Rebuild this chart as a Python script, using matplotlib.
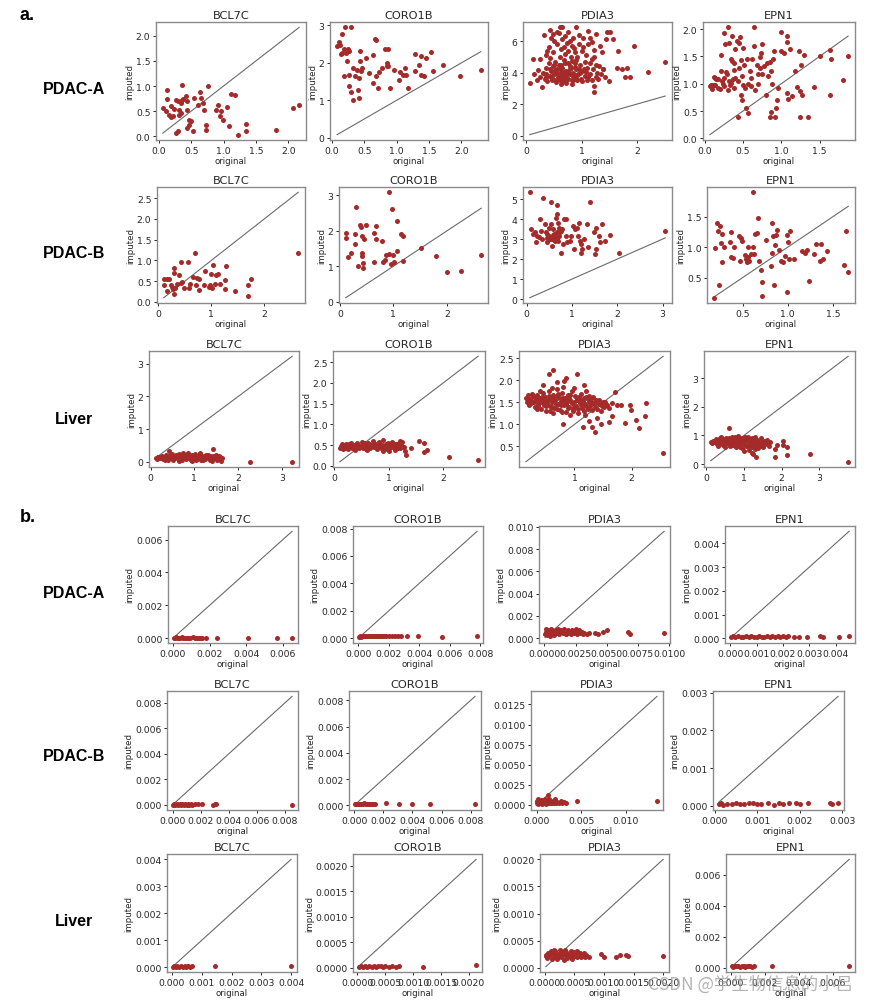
import numpy as np
import matplotlib
matplotlib.use('Agg')
import matplotlib.pyplot as plt
from matplotlib.ticker import MultipleLocator

# ---------- data: (original, imputed) per panel ----------
genes = ['BCL7C', 'CORO1B', 'PDIA3', 'EPN1']
row_names = ['PDAC-A', 'PDAC-B', 'Liver']

# a. PDAC-A
a_pdaca_bcl7c = [(.06,.57),(.13,.93),(.13,.75),(.11,.50),(.15,.43),(.18,.39),(.21,.40),(.18,.60),(.23,.55),(.26,.73),
    (.29,.70),(.31,.53),(.34,.47),(.34,.67),(.36,.73),(.38,.75),(.36,1.02),(.29,.10),(.27,.07),(.31,.43),
    (.42,.80),(.43,.53),(.44,.70),(.46,.33),(.47,.23),(.44,.17),(.49,.30),(.52,.11),(.54,.77),(.60,.63),
    (.64,.88),(.65,.77),(.68,.67),(.70,.53),(.73,.23),(.73,.12),(.76,1.00),(.89,.53),(.91,.63),(.94,.40),
    (.96,.50),(.99,.33),(1.06,.59),(1.09,.20),(1.12,.85),(1.17,.83),(1.23,.03),(1.35,.25),(1.35,.11),(1.81,.12),
    (2.07,.57),(2.17,.62)]
a_pdaca_coro1b = [(.08,2.44),(.11,2.55),(.13,2.47),(.15,2.77),(.19,2.36),(.16,2.27),(.22,2.27),(.20,2.95),(.30,2.95),(.14,2.23),
    (.25,2.38),(.27,2.32),(.23,2.06),(.19,1.65),(.27,1.38),(.30,1.23),(.33,1.00),(.27,1.68),(.33,1.86),(.36,1.64),
    (.38,1.82),(.41,1.59),(.40,1.27),(.41,1.05),(.44,2.32),(.44,2.05),(.46,1.86),(.45,1.77),(.52,2.14),(.57,1.73),
    (.63,2.20),(.66,2.65),(.68,2.62),(.63,1.47),(.68,1.65),(.73,1.75),(.71,1.32),(.77,1.86),(.82,2.36),(.85,2.00),
    (.85,1.91),(.87,2.38),(.87,1.91),(.90,1.32),(.96,1.80),(1.04,1.55),(1.05,1.75),(1.09,1.68),(1.13,1.86),(1.15,1.68),
    (1.17,1.32),(1.28,1.77),(1.29,2.25),(1.34,1.93),(1.37,2.18),(1.38,1.68),(1.42,1.64),(1.45,2.14),(1.53,2.29),(1.56,1.77),
    (1.72,1.95),(1.98,1.64),(2.30,1.80)]
a_pdaca_pdia3 = [(.06,3.36),(.12,4.85),(.13,3.90),(.19,3.51),(.21,4.15),(.25,4.85),(.25,3.74),(.28,3.10),(.31,6.40),(.43,6.72),
    (.48,6.45),(.60,6.87),(.64,6.87),(.90,6.87),(1.12,6.66),(1.26,6.45),(1.45,6.55),(1.51,6.55),(1.44,6.13),(1.57,6.13),
    (1.18,5.91),(1.66,5.38),(1.94,5.70),(1.63,4.32),(1.72,4.21),(1.81,4.32),(1.78,3.74),(1.88,3.74),(2.20,4.04),(2.51,4.68),
    (1.50,3.47),(1.22,2.77),(1.22,3.15),(1.39,4.21),(1.36,5.28),(1.33,5.70),
    (.30,4.0),(.33,3.6),(.35,4.3),(.36,5.1),(.38,3.45),(.40,4.6),(.40,5.6),(.42,3.8),(.44,4.1),(.45,6.2),
    (.46,3.5),(.48,4.4),(.48,5.3),(.50,3.9),(.50,6.0),(.52,4.7),(.53,3.4),(.55,4.2),(.55,5.8),(.57,3.7),
    (.58,4.5),(.58,6.5),(.60,3.5),(.60,5.0),(.62,4.0),(.62,5.5),(.64,3.4),(.65,4.3),(.65,6.1),(.67,3.8),
    (.68,4.8),(.70,3.5),(.70,5.2),(.70,6.3),(.72,4.1),(.73,5.9),(.75,3.6),(.75,4.6),(.76,5.4),(.78,3.9),
    (.78,6.0),(.80,4.3),(.80,5.0),(.82,3.5),(.83,5.7),(.85,4.0),(.85,6.2),(.87,4.6),(.88,3.7),(.88,5.3),
    (.90,4.2),(.92,3.5),(.92,5.0),(.94,3.9),(.95,5.8),(.96,4.5),(.98,3.6),(1.00,4.1),(1.00,5.4),(1.02,6.2),
    (1.05,3.8),(1.05,4.7),(1.08,5.1),(1.10,3.5),(1.10,4.3),(1.12,5.8),(1.15,3.9),(1.15,4.6),(1.18,3.5),(1.20,4.2),
    (1.22,5.0),(1.25,3.7),(1.25,4.5),(1.28,4.0),(1.30,3.6),(1.32,4.4),(1.35,3.9),(1.38,4.2),(1.42,3.7),(.35,3.9),
    (.45,3.75),(.55,3.55),(.65,3.65),(.75,3.95),(.85,3.55),(.95,4.25),(.68,4.05),(.78,4.2),(.58,3.85),(.88,4.35),
    (1.0,3.45),(.52,4.15),(.62,4.45),(.72,3.35),(.82,4.75),(.92,3.85),(1.08,4.05),(1.18,4.85),(.42,4.9),(.38,5.4),
    (.55,6.6),(.75,6.6),(.95,6.4),(1.15,6.2),(.68,5.65),(.86,5.55),(1.02,5.65),(1.22,5.45),
    (.35,3.7),(.42,4.2),(.48,3.6),(.55,4.0),(.60,4.2),(.66,3.5),(.72,3.8),(.78,4.4),(.84,3.8),(.90,3.6),
    (.96,4.0),(1.04,4.2),(1.12,3.7),(.50,4.5),(.70,4.6),(.90,4.8),(.62,3.3),(.82,3.3)]
a_pdaca_epn1 = [(.09,.98),(.10,.90),(.11,.97),(.13,1.11),(.15,1.09),(.18,1.08),(.20,.90),(.21,1.23),(.22,1.52),(.24,1.00),
    (.25,1.93),(.26,1.11),(.27,1.72),(.29,1.17),(.30,2.03),(.31,.88),(.32,1.75),(.33,.98),(.34,1.45),(.35,1.02),
    (.36,1.88),(.36,1.42),(.37,1.08),(.39,1.26),(.39,1.38),(.40,1.63),(.42,1.78),(.43,1.05),(.44,.40),(.45,1.29),
    (.45,1.75),(.46,1.85),(.47,1.43),(.48,.80),(.49,.71),(.49,1.14),(.50,1.66),(.52,1.35),(.53,.92),(.54,.55),
    (.55,1.45),(.56,.46),(.57,1.00),(.59,1.23),(.61,.95),(.62,1.46),(.64,2.03),(.65,1.69),(.66,.89),(.68,1.35),
    (.69,1.17),(.70,1.00),(.72,1.48),(.74,1.57),(.75,1.72),(.75,1.17),(.78,1.32),(.80,.80),(.81,1.38),(.83,1.14),
    (.85,.40),(.86,.49),(.87,1.23),(.88,1.00),(.89,1.45),(.91,1.60),(.92,.40),(.93,.55),(.94,.71),(.96,.92),
    (.99,1.60),(1.00,1.94),(1.03,1.57),(1.07,1.88),(1.08,1.77),(1.08,.83),(1.09,.72),(1.11,1.63),(1.14,.77),(1.18,1.23),
    (1.20,.94),(1.23,1.60),(1.24,.40),(1.25,.86),(1.26,1.35),(1.27,.80),(1.29,1.52),(1.35,.40),(1.43,.94),(1.51,1.50),
    (1.64,1.62),(1.64,.80),(1.65,1.46),(1.81,1.06),(1.87,1.50),(.07,.95),(.12,1.12),(.18,.92),(.23,1.05),(.28,1.22),
    (.32,1.05),(.40,1.10),(.50,.98),(.60,1.10),(.72,1.28),(.85,1.40),(.14,.98),(.26,.95),(.38,.92)]

# a. PDAC-B
a_pdacb_bcl7c = [(.10,.40),(.11,.56),(.16,.56),(.17,.26),(.20,.56),(.24,.40),(.25,.36),(.27,.32),(.29,.20),(.29,.82),
    (.30,.70),(.32,.34),(.36,.44),(.38,.64),(.42,.96),(.42,.46),(.45,.48),(.49,.34),(.56,.96),(.58,.34),
    (.60,.42),(.66,.60),(.69,1.18),(.70,.40),(.72,.58),(.77,.56),(.77,.28),(.86,.40),(.87,.74),(.95,.36),
    (.98,.40),(1.00,.66),(1.02,.34),(1.03,.89),(1.06,.42),(1.08,.64),(1.12,.68),(1.16,.44),(1.26,.52),(1.26,.32),
    (1.28,.86),(1.45,.26),(1.70,.40),(1.70,.14),(1.74,.56),(2.64,1.18)]
a_pdacb_coro1b = [(.11,1.94),(.11,1.80),(.16,1.26),(.20,1.38),(.28,1.64),(.29,1.90),(.31,2.66),(.34,1.00),(.37,2.16),(.39,2.10),
    (.41,1.28),(.42,1.38),(.42,1.85),(.43,1.10),(.44,.96),(.45,1.78),(.48,2.16),(.64,1.93),(.67,2.13),(.64,1.12),
    (.68,1.78),(.79,1.72),(.81,1.12),(.84,1.19),(.87,1.31),(.91,1.35),(.91,3.09),(.95,1.05),(.98,2.62),(.99,1.31),
    (1.01,1.12),(1.06,2.27),(1.07,1.44),(1.14,1.92),(1.18,1.85),(1.18,1.16),(1.51,1.52),(1.79,1.28),(2.01,.84),(2.26,.86),
    (2.64,1.31)]
a_pdacb_pdia3 = [(.07,5.34),(.10,3.49),(.15,3.25),(.18,3.33),(.20,2.84),(.24,3.16),(.27,3.08),(.29,3.98),(.31,3.41),(.33,3.00),
    (.37,5.05),(.40,3.74),(.42,3.33),(.44,3.25),(.45,2.84),(.49,3.57),(.51,3.00),(.53,4.85),(.54,3.77),(.56,2.67),
    (.59,3.49),(.60,3.25),(.62,2.92),(.64,4.03),(.66,4.72),(.67,4.26),(.67,3.00),(.69,3.82),(.71,3.57),(.71,3.16),
    (.73,3.33),(.75,2.30),(.78,3.49),(.81,2.75),(.82,3.98),(.86,3.16),(.88,3.98),(.90,2.84),(.95,2.92),(.97,3.16),
    (1.03,3.66),(1.04,2.51),(1.06,3.49),(1.12,3.57),(1.13,3.16),(1.15,3.82),(1.17,2.92),(1.19,2.30),(1.20,2.75),(1.23,2.51),
    (1.26,3.00),(1.34,3.77),(1.35,2.62),(1.39,4.85),(1.48,3.33),(1.52,2.26),(1.53,2.51),(1.54,3.54),(1.59,3.16),(1.63,2.84),
    (1.67,3.74),(1.72,2.92),(1.83,3.21),(2.04,2.30),(3.06,3.38),(.55,3.00),(.60,2.95),(.65,3.10),(.70,2.90),(.62,3.05),
    (.58,3.20),(.68,3.35),(.75,3.40),(.50,3.15),(.45,3.05)]
a_pdacb_epn1 = [(.18,.17),(.19,.99),(.22,1.39),(.23,1.26),(.24,.38),(.25,1.35),(.26,1.07),(.27,.76),(.27,1.21),(.29,1.01),
    (.36,1.08),(.37,1.25),(.37,.84),(.39,.82),(.41,1.00),(.46,1.19),(.47,.77),(.48,1.15),(.49,1.10),(.53,.87),
    (.54,.80),(.55,.76),(.56,.84),(.56,1.01),(.57,.77),(.59,.88),(.61,1.01),(.61,1.90),(.63,.89),(.64,1.21),
    (.66,1.23),(.67,1.47),(.68,.78),(.70,.62),(.71,.20),(.72,.43),(.76,1.12),(.81,.69),(.82,1.39),(.83,.91),
    (.84,1.18),(.85,.38),(.86,1.04),(.87,1.20),(.88,1.28),(.90,.96),(.92,.78),(.95,.76),(.97,.85),(.99,.26),
    (.99,1.20),(1.00,1.09),(1.01,.81),(1.02,1.26),(1.07,.81),(1.16,.93),(1.19,.91),(1.21,.96),(1.23,.45),(1.29,.89),
    (1.31,1.05),(1.36,.77),(1.39,.80),(1.37,1.05),(1.43,.94),(1.62,.70),(1.65,1.26),(1.67,.60)]

# a. Liver
a_liver_bcl7c = [(.12,.12),(.15,.08),(.18,.16),(.22,.10),(.25,.19),(.28,.07),(.32,.14),(.35,.21),(.38,.09),(.42,.17),
    (.45,.12),(.48,.24),(.52,.06),(.55,.15),(.58,.20),(.62,.10),(.65,.25),(.68,.13),(.72,.05),(.75,.18),
    (.78,.22),(.82,.11),(.85,.27),(.88,.15),(.92,.06),(.95,.20),(.98,.12),(1.02,.24),(1.05,.09),(1.08,.17),
    (1.12,.21),(1.15,.04),(1.18,.13),(1.22,.19),(1.25,.08),(1.28,.15),(1.32,.22),(1.35,.06),(1.38,.14),(1.42,.18),
    (1.45,.10),(1.48,.16),(1.52,.05),(1.55,.12),(1.58,.15),(1.62,.10),(1.60,.03),(1.42,.40),(.42,.32),(2.26,.00),
    (3.23,.00),(.30,.10),(.40,.06),(.50,.19),(.60,.14),(.70,.21),(.80,.07),(.90,.18),(1.00,.15),(1.10,.11),
    (1.20,.06),(1.30,.10),(1.40,.03),(.20,.13),(1.50,.21),(.65,.03),(.95,.02),(1.12,.28),
    (.16,.13),(.26,.14),(.36,.16),(.46,.15),(.56,.10),(.66,.17),(.76,.12),(.86,.19),(.96,.15),(1.06,.13),
    (1.16,.17),(1.26,.20),(1.36,.17),(1.46,.14),(1.56,.18),(.34,.04),(.74,.26),(1.04,.04)]
a_liver_coro1b = [(.10,.42),(.12,.47),(.15,.40),(.18,.50),(.20,.44),(.22,.53),(.25,.41),(.28,.48),(.30,.56),(.32,.43),
    (.35,.51),(.38,.39),(.40,.46),(.42,.55),(.45,.42),(.48,.49),(.50,.58),(.52,.44),(.55,.52),(.58,.40),
    (.60,.47),(.62,.56),(.65,.43),(.68,.50),(.70,.60),(.72,.45),(.75,.53),(.78,.41),(.80,.48),(.82,.57),
    (.85,.44),(.88,.51),(.90,.62),(.92,.40),(.95,.47),(.98,.55),(1.00,.43),(1.02,.50),(1.05,.58),(1.08,.45),
    (1.10,.52),(1.12,.39),(1.15,.48),(1.18,.55),(1.20,.44),(1.22,.50),(1.25,.58),(1.28,.46),(1.30,.37),(1.32,.26),
    (1.40,.44),(1.55,.60),(1.64,.56),(1.64,.33),(1.70,.38),(2.10,.21),(2.64,.14),(.90,.36),(.60,.38),(1.20,.60),
    (1.00,.36),(.14,.52),(.24,.46),(.34,.45),(.44,.50),(.54,.46),(.64,.52),(.74,.48),(.84,.52),(.94,.53),
    (1.04,.46),(1.14,.53),(1.24,.46),(.27,.52),(.57,.55),(.87,.47),(1.17,.42)]
a_liver_pdia3 = [(.15,1.60),(.17,1.52),(.19,1.66),(.21,1.45),(.23,1.58),(.25,1.70),(.27,1.50),(.29,1.62),(.31,1.40),(.33,1.55),
    (.35,1.68),(.37,1.47),(.39,1.60),(.41,1.35),(.43,1.52),(.45,1.72),(.47,1.44),(.49,1.63),(.51,1.30),(.53,1.55),
    (.55,1.75),(.57,1.42),(.59,1.60),(.61,1.50),(.63,1.68),(.65,1.38),(.67,1.57),(.69,1.80),(.71,1.46),(.73,1.62),
    (.75,1.32),(.77,1.54),(.79,1.72),(.81,1.43),(.83,1.59),(.85,1.28),(.87,1.50),(.89,1.66),(.91,1.40),(.93,1.56),
    (.95,1.76),(.97,1.34),(.99,1.52),(1.01,1.64),(1.03,1.42),(1.05,1.58),(1.07,1.25),(1.09,1.48),(1.11,1.70),(1.13,1.38),
    (1.15,1.54),(1.17,1.30),(1.19,1.47),(1.21,1.62),(1.23,1.36),(1.25,1.52),(1.27,1.42),(1.29,1.58),(1.31,1.33),(1.33,1.48),
    (1.35,1.40),(1.38,1.55),(1.40,1.35),(1.43,1.46),(1.46,1.30),(1.49,1.50),(1.52,1.40),(1.56,1.45),(1.60,1.38),(1.65,1.48),
    (1.70,1.74),(1.75,1.45),(.40,1.75),(.60,1.82),(.80,1.85),(1.00,1.82),(1.20,1.75),(.50,1.42),(.70,1.36),(.90,1.58),
    (1.10,1.55),(.30,1.52),(.62,1.25),(.92,1.22),(.55,2.15),(.62,2.24),(1.05,2.14),(1.16,1.90),(.69,1.96),(.82,1.99),
    (1.81,1.43),(1.97,1.44),(1.98,1.33),(2.25,1.49),(2.23,1.19),(2.12,.91),(2.08,1.10),(1.88,1.03),(1.36,.82),(1.31,.93),
    (1.15,.93),(.80,1.01),(1.46,1.01),(1.66,1.19),(1.60,1.06),(2.55,.35),(.85,2.05),(.45,1.90),(1.25,1.08),(1.40,1.15),
    (.20,1.55),(.24,1.48),(.28,1.65),(.32,1.58),(.36,1.42),(.40,1.50),(.44,1.62),(.48,1.55),(.52,1.48),(.56,1.65),
    (.60,1.40),(.64,1.55),(.68,1.47),(.72,1.70),(.76,1.45),(.80,1.60),(.84,1.52),(.88,1.38),(.92,1.68),(.96,1.48),
    (1.00,1.40),(1.04,1.55),(1.08,1.62),(1.12,1.45),(1.16,1.60),(1.20,1.42),(1.24,1.58),(1.28,1.50),(1.32,1.62),(1.36,1.48),
    (1.42,1.56),(1.48,1.42),(1.54,1.52),(.34,1.34),(.58,1.30),(.78,1.28),(.98,1.30),(1.18,1.22),(.46,1.58),(.66,1.62),
    (.86,1.46),(1.06,1.36),(1.26,1.65)]
a_liver_epn1 = [(.12,.78),(.15,.72),(.18,.82),(.22,.76),(.25,.86),(.28,.70),(.32,.80),(.35,.90),(.38,.74),(.42,.84),
    (.45,.66),(.48,.78),(.52,.92),(.55,.72),(.58,.85),(.62,.62),(.65,.78),(.68,.95),(.72,.68),(.75,.82),
    (.78,.58),(.82,.76),(.85,.98),(.88,.66),(.92,.86),(.95,.55),(.98,.74),(1.02,.94),(1.05,.62),(1.08,.80),
    (1.12,.50),(1.15,.70),(1.18,.88),(1.22,.60),(1.25,.78),(1.28,.95),(1.32,.66),(1.35,.84),(1.38,.55),(1.42,.74),
    (1.45,.90),(1.48,.64),(1.52,.80),(1.55,.70),(1.60,.85),(1.65,.62),(1.70,.76),(.50,.60),(.70,.88),(.90,.60),
    (1.00,.82),(1.10,.96),(1.20,.72),(.40,.95),(.60,.70),(.80,.90),(1.30,.52),(1.50,.58),(.30,.62),(1.00,.45),
    (1.20,.40),(1.25,.35),(.61,1.27),(1.82,.54),(1.88,.68),(2.04,.80),(2.04,.68),(2.15,.58),(2.15,.31),(1.82,.25),
    (1.32,.25),(2.74,.35),(3.76,.08),
    (.20,.80),(.30,.85),(.40,.72),(.45,.88),(.55,.80),(.60,.92),(.65,.68),(.70,.75),(.75,.95),(.80,.68),
    (.85,.84),(.90,.74),(.95,.92),(1.00,.70),(1.05,.86),(1.10,.64),(1.15,.80),(1.20,.92),(1.25,.68),(1.30,.85),
    (1.35,.72),(1.40,.62),(1.45,.78),(1.50,.70),(1.58,.72)]

# b. PDAC-A
b_pdaca_bcl7c = [(.00005,.00004),(.0001,.00003),(.00018,.00005),(.00025,.00003),(.0003,.00004),(.0004,.00003),(.00048,.00005),
    (.00055,.00003),(.0006,.00004),(.0007,.00003),(.0008,.00004),(.00095,.00003),(.0011,.00005),(.0012,.00003),
    (.0013,.00004),(.0014,.00003),(.0015,.00004),(.0016,.00003),(.0018,.00004),(.0024,.00003),(.0041,.00004),
    (.0057,.00003),(.0065,.00003)]
b_pdaca_coro1b = [(.00003,.0001),(.0001,.00012),(.0002,.00011),(.0003,.00014),(.0004,.00012),(.0005,.00015),(.0006,.00013),
    (.0007,.00015),(.0008,.00012),(.0009,.00014),(.001,.00016),(.0011,.00013),(.0012,.00015),(.0013,.00012),
    (.0014,.00014),(.0015,.00013),(.0016,.00015),(.0017,.00012),(.0018,.00014),(.002,.00013),(.0022,.00012),
    (.0024,.00014),(.0026,.00013),(.0028,.00012),(.0032,.00013),(.0039,.00015),(.0055,.0001),(.0078,.00012)]
b_pdaca_pdia3 = [(.00005,.0004),(.0001,.0006),(.0002,.0003),(.0003,.0007),(.0004,.0005),(.0005,.0008),(.0006,.0004),
    (.0007,.0006),(.0008,.0003),(.0009,.0007),(.001,.0005),(.0011,.0008),(.0012,.0004),(.0013,.0006),
    (.0014,.0007),(.0015,.0005),(.0016,.0008),(.0017,.0004),(.0018,.0006),(.0019,.0007),(.002,.0005),
    (.0021,.0004),(.0022,.0007),(.0023,.0006),(.0024,.0005),(.0025,.0008),(.0026,.0004),(.0027,.0006),
    (.0028,.0007),(.0029,.0005),(.003,.0006),(.0031,.0004),(.0032,.0005),(.0034,.0004),(.0036,.0005),
    (.0041,.0005),(.0043,.0004),(.0047,.0006),(.005,.0007),(.0067,.0006),(.0069,.0004),(.0096,.0005),
    (.00015,.0008),(.00045,.0002),(.00085,.00055),(.00125,.00075),(.00175,.00035),(.00225,.00055),(.00065,.00075)]
b_pdaca_epn1 = [(.00003,.00006),(.0001,.00008),(.0002,.00005),(.0003,.00009),(.0004,.00007),(.0005,.00006),(.0006,.00009),
    (.0007,.00005),(.0008,.00008),(.0009,.00007),(.001,.00006),(.0011,.00009),(.0012,.00007),(.0013,.00005),
    (.0014,.00008),(.0015,.00006),(.0016,.00009),(.0017,.00007),(.0018,.00008),(.0019,.00006),(.002,.00009),
    (.0021,.00007),(.0022,.00008),(.0024,.00006),(.0026,.00007),(.0029,.00005),(.0034,.00009),(.0035,.00006),
    (.0041,.00007),(.0045,.0001)]

# b. PDAC-B
b_pdacb_bcl7c = [(.00003,.00002),(.0001,.00003),(.0002,.00002),(.0003,.00003),(.0004,.00002),(.0005,.00003),(.0006,.00002),
    (.0007,.00003),(.0008,.00002),(.0009,.00003),(.001,.00002),(.0011,.00003),(.0012,.00002),(.0013,.00003),
    (.0014,.00002),(.0016,.00003),(.0018,.00004),(.0021,.00008),(.0029,.00002),(.003,.00004),(.0031,.00006),
    (.0085,.00002)]
b_pdacb_coro1b = [(.00005,.00012),(.00015,.0001),(.00025,.00013),(.00035,.0001),(.00045,.00012),(.0006,.00011),(.0007,.00014),
    (.0008,.0001),(.0009,.00012),(.001,.00011),(.0011,.00013),(.0012,.0001),(.0013,.00012),(.0014,.00009),
    (.0022,.00014),(.0031,.00011),(.004,.0001),(.0052,.00011),(.0083,.00009)]
b_pdacb_pdia3 = [(.00005,.0002),(.0001,.0005),(.0002,.0001),(.0003,.0006),(.0004,.0003),(.0005,.0006),(.0006,.0001),
    (.0007,.0004),(.0008,.0002),(.0009,.0005),(.001,.0003),(.0011,.0001),(.0012,.0006),(.0013,.0012),
    (.0013,.0003),(.0014,.0007),(.0015,.0002),(.0016,.0005),(.0017,.0003),(.0018,.0004),(.0019,.0002),
    (.002,.0005),(.0021,.0008),(.0022,.0003),(.0023,.0004),(.0025,.0002),(.0027,.0005),(.0029,.0003),
    (.0031,.0004),(.0033,.0003),(.0045,.00055),(.0135,.00055),(.00015,.0007),(.00055,.0002),(.00095,.0007),
    (.00145,.00045),(.0006,.00065)]
b_pdacb_epn1 = [(.0001,.00004),(.00015,.00006),(.0002,.00003),(.0003,.00005),(.0004,.00004),(.0005,.00007),(.0006,.00005),
    (.0007,.00004),(.0008,.00006),(.0009,.00008),(.001,.00005),(.0011,.00004),(.00125,.00006),(.0014,.00003),
    (.0015,.00007),(.0016,.00005),(.00175,.00006),(.0019,.00007),(.002,.00004),(.0022,.00006),(.0027,.00006),
    (.00275,.00005),(.0029,.00008)]

# b. Liver
b_liver_bcl7c = [(.00003,.00002),(.00008,.00003),(.00012,.00002),(.00018,.00003),(.00024,.00002),(.0003,.00003),(.00036,.00002),
    (.00042,.00003),(.00048,.00002),(.00054,.00003),(.0006,.00002),(.00066,.00003),(.00144,.00003),(.004,.00003)]
b_liver_coro1b = [(.00003,.00002),(.00006,.00003),(.0001,.00002),(.00014,.00003),(.00018,.00002),(.00022,.00003),(.00026,.00002),
    (.0003,.00003),(.00034,.00002),(.00038,.00003),(.00042,.00004),(.00046,.00002),(.0005,.00003),(.00057,.00002),
    (.00063,.00003),(.0007,.00002),(.00075,.00003),(.00117,.00002),(.00213,.00005)]
b_liver_pdia3 = [(.00002,.00024),(.00004,.00018),(.00006,.00028),(.00008,.00021),(.0001,.00031),(.00012,.00016),(.00014,.00025),
    (.00016,.0002),(.00018,.0003),(.0002,.00017),(.00022,.00026),(.00024,.00022),(.00026,.00033),(.00028,.00019),
    (.0003,.00027),(.00032,.00015),(.00034,.00024),(.00036,.00029),(.00038,.00018),(.0004,.00025),(.00042,.00021),
    (.00044,.0003),(.00046,.00017),(.00048,.00026),(.0005,.00022),(.00052,.00028),(.00054,.00019),(.00056,.00025),
    (.00058,.00021),(.0006,.00027),(.00062,.0002),(.00065,.00024),(.00068,.00019),(.0007,.00023),(.00075,.0002),
    (.00095,.00025),(.001,.00019),(.0012,.0002),(.00128,.00023),(.00138,.00024),(.0014,.00022),(.002,.00021),
    (.00015,.00032),(.00035,.00033),(.00055,.00031),(.00003,.00021),(.00009,.00026),(.00019,.00023),(.00029,.00024),
    (.00039,.00022),(.00049,.00029),(.00059,.00023),(.00066,.00028),(.00027,.0003),(.00045,.00019)]
b_liver_epn1 = [(.00006,.00008),(.00015,.00006),(.00025,.0001),(.00035,.00007),(.00045,.00009),(.00055,.00006),(.00065,.0001),
    (.00075,.00008),(.00085,.00006),(.00095,.00009),(.00105,.00007),(.00115,.00008),(.00125,.00006),(.00138,.00009),
    (.00243,.00009),(.00698,.0001)]

# tick spacing (x, y) per panel
a_steps = [[(.5, .5), (.5, 1), (1, 2), (.5, .5)],
           [(1, .5), (1, 1), (1, 1), (.5, .5)],
           [(1, 1), (1, .5), (1, .5), (1, 1)]]
b_steps = [[(.002, .002), (.002, .002), (.0025, .002), (.001, .001)],
           [(.002, .002), (.002, .002), (.005, .0025), (.001, .001)],
           [(.001, .001), (.0005, .0005), (.0005, .0005), (.002, .002)]]

a_data = [[a_pdaca_bcl7c, a_pdaca_coro1b, a_pdaca_pdia3, a_pdaca_epn1],
          [a_pdacb_bcl7c, a_pdacb_coro1b, a_pdacb_pdia3, a_pdacb_epn1],
          [a_liver_bcl7c, a_liver_coro1b, a_liver_pdia3, a_liver_epn1]]
b_data = [[b_pdaca_bcl7c, b_pdaca_coro1b, b_pdaca_pdia3, b_pdaca_epn1],
          [b_pdacb_bcl7c, b_pdacb_coro1b, b_pdacb_pdia3, b_pdacb_epn1],
          [b_liver_bcl7c, b_liver_coro1b, b_liver_pdia3, b_liver_epn1]]

# ---------- layout (pixel boxes: left, top, right, bottom) ----------
W, H = 893, 1004
a_boxes = [[(156, 23, 306, 141), (330, 23, 488, 141), (523, 23, 672, 141), (703, 23, 855, 141)],
           [(157, 188, 305, 304), (339, 188, 488, 304), (523, 188, 672, 304), (707, 188, 855, 304)],
           [(149, 352, 299, 468), (333, 352, 485, 468), (519, 352, 670, 468), (704, 352, 855, 468)]]
b_boxes = [[(168, 527, 298, 644), (353, 527, 483, 644), (539, 527, 670, 644), (725, 527, 855, 644)],
           [(167, 692, 298, 811), (349, 692, 481, 811), (531, 692, 663, 811), (713, 692, 844, 811)],
           [(167, 855, 297, 973), (353, 855, 482, 973), (540, 855, 669, 973), (726, 855, 855, 973)]]
a_label_y = [90, 254, 419]
b_label_y = [593, 757, 922]

dot_color = '#a52a2a'
text_color = '#262626'

fig = plt.figure(figsize=(W / 100, H / 100), dpi=100)


def draw(box, data, title, steps):
    l, t, r, b = box
    ax = fig.add_axes([l / W, 1 - b / H, (r - l) / W, (b - t) / H])
    pts = np.array(data)
    x, y = pts[:, 0], pts[:, 1]
    ax.plot([x.min(), x.max()], [x.min(), x.max()], color='#6a6a6a', lw=0.8, zorder=1)
    ax.scatter(x, y, s=13, color=dot_color, linewidths=0, zorder=2)
    ax.xaxis.set_major_locator(MultipleLocator(steps[0]))
    ax.yaxis.set_major_locator(MultipleLocator(steps[1]))
    ax.set_title(title, fontsize=8.2, color=text_color, pad=3)
    ax.set_xlabel('original', fontsize=6.2, color=text_color, labelpad=1)
    ax.set_ylabel('imputed', fontsize=6.2, color=text_color, labelpad=1)
    ax.tick_params(labelsize=6.7, colors=text_color, length=2.5, width=0.7, pad=1.5)
    for sp in ax.spines.values():
        sp.set_color('#8a8a8a')
        sp.set_linewidth(1.0)
    return ax


for i in range(3):
    for j in range(4):
        draw(a_boxes[i][j], a_data[i][j], genes[j], a_steps[i][j])
        draw(b_boxes[i][j], b_data[i][j], genes[j], b_steps[i][j])
    fig.text(74 / W, 1 - a_label_y[i] / H, row_names[i], ha='center', va='center',
             fontsize=11.5, fontweight='bold', family='Liberation Sans', color='black')
    fig.text(74 / W, 1 - b_label_y[i] / H, row_names[i], ha='center', va='center',
             fontsize=11.5, fontweight='bold', family='Liberation Sans', color='black')

fig.text(20 / W, 1 - 15 / H, 'a.', ha='left', va='center', fontsize=13,
         fontweight='bold', family='Liberation Sans')
fig.text(20 / W, 1 - 517 / H, 'b.', ha='left', va='center', fontsize=13,
         fontweight='bold', family='Liberation Sans')

# watermark
fig.text(648 / W, 1 - 985 / H, 'CSDN @学生物信息的小吕', ha='left', va='center',
         fontsize=12.5, color='#9a9a9a', alpha=0.75,
         family=['Noto Sans CJK SC', 'DejaVu Sans'])

fig.savefig('out.png', dpi=100)
